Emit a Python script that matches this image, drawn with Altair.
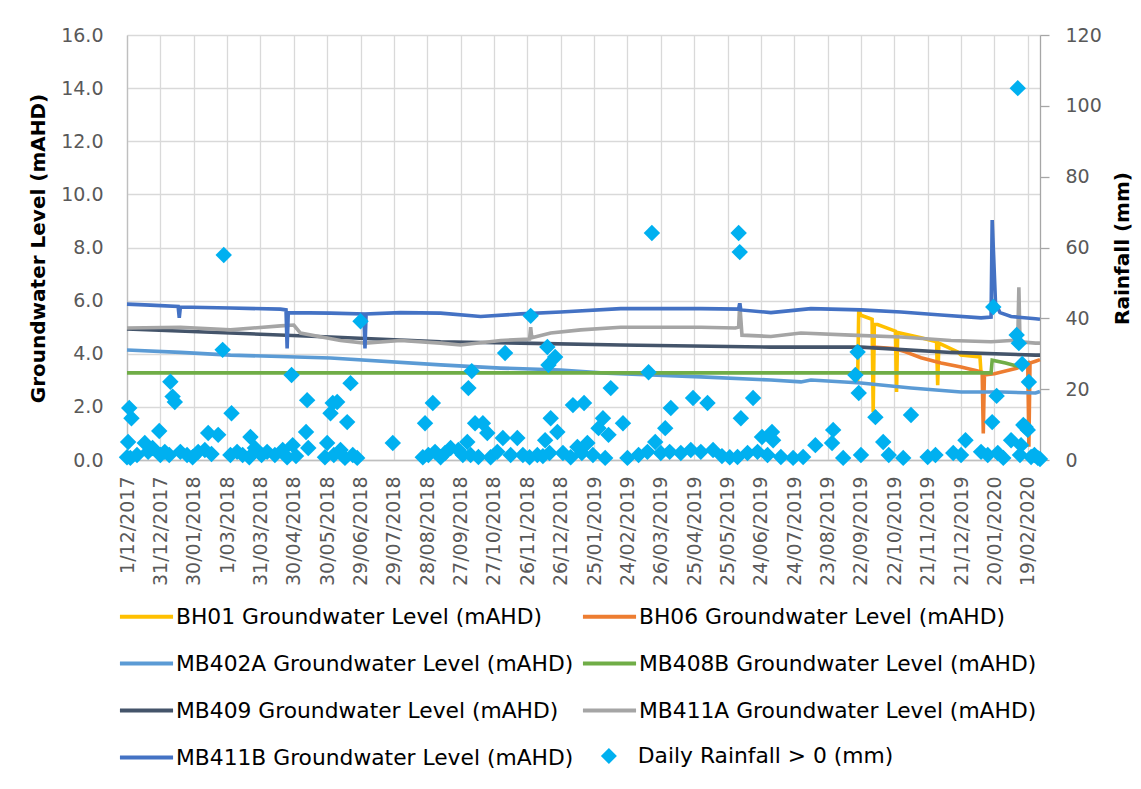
import altair as alt
import pandas as pd

START = "2017-12-01"
LAST_DAY = 821  # days after START shown on the axis (1/03/2020)

# legend is filled column by column: first column, then second column
series_names = [
    "BH01 Groundwater Level (mAHD)",
    "MB402A Groundwater Level (mAHD)",
    "MB409 Groundwater Level (mAHD)",
    "MB411B Groundwater Level (mAHD)",
    "BH06 Groundwater Level (mAHD)",
    "MB408B Groundwater Level (mAHD)",
    "MB411A Groundwater Level (mAHD)",
]
series_colors = ["#FFC000", "#5B9BD5", "#44546A", "#4472C4", "#ED7D31", "#70AD47", "#A5A5A5"]
rain_name = "Daily Rainfall > 0 (mm)"

# groundwater levels (day offset from START, mAHD)
bh01_day = [657, 658, 660, 670, 671, 672, 675, 691, 692, 693, 714, 728, 729, 730, 747, 750, 767, 768]
bh01_val = [2.95, 5.65, 5.45, 5.3, 1.8, 5.1, 5.1, 4.85, 2.56, 4.8, 4.6, 4.45, 2.82, 4.4, 4.07, 3.95, 3.88, 3.25]

bh06_day = [670, 690, 700, 714, 732, 750, 765, 769, 770, 771, 780, 790, 800, 808, 810, 811, 812, 817, 821]
bh06_val = [4.25, 4.2, 4.07, 3.85, 3.65, 3.5, 3.35, 3.3, 1.0, 3.2, 3.25, 3.35, 3.45, 3.6, 3.65, 0.5, 3.65, 3.72, 3.78]

mb402a_day = [0, 48, 93, 183, 282, 336, 390, 426, 516, 579, 606, 615, 660, 705, 750, 786, 817, 821]
mb402a_val = [4.14, 4.05, 3.95, 3.84, 3.58, 3.46, 3.39, 3.28, 3.13, 3.01, 2.94, 3.01, 2.9, 2.71, 2.56, 2.56, 2.52, 2.58]

mb408b_day = [0, 777, 778, 790, 802]
mb408b_val = [3.28, 3.28, 3.76, 3.65, 3.52]

mb409_day = [0, 93, 183, 282, 354, 444, 579, 660, 741, 817, 821]
mb409_val = [4.93, 4.78, 4.63, 4.45, 4.4, 4.33, 4.25, 4.25, 4.05, 3.95, 3.95]

mb411a_day = [0, 48, 93, 138, 150, 156, 192, 214, 246, 282, 300, 336, 362, 363, 364, 381, 408, 444,
              480, 516, 547, 550, 551, 553, 579, 606, 651, 696, 741, 777, 795, 801, 802, 803, 817, 821]
mb411a_val = [4.97, 5.0, 4.9, 5.05, 5.08, 4.78, 4.5, 4.4, 4.5, 4.4, 4.33, 4.5, 4.55, 5.0, 4.6, 4.78, 4.9, 5.0,
              5.0, 5.0, 4.97, 5.0, 5.9, 4.7, 4.65, 4.78, 4.7, 4.63, 4.5, 4.45, 4.5, 4.5, 6.5, 4.45, 4.4, 4.4]

mb411b_day = [0, 21, 46, 47, 48, 93, 138, 143, 144, 145, 183, 213, 214, 215, 246, 282, 318, 354, 390, 444,
              516, 550, 551, 552, 579, 615, 660, 696, 732, 768, 777, 778, 781, 785, 795, 817, 821]
mb411b_val = [5.87, 5.83, 5.78, 5.35, 5.76, 5.72, 5.68, 5.65, 4.2, 5.55, 5.53, 5.5, 4.2, 5.5, 5.55, 5.53, 5.4, 5.5, 5.57, 5.7,
              5.7, 5.68, 5.9, 5.65, 5.55, 5.7, 5.65, 5.57, 5.46, 5.35, 5.38, 9.03, 5.9, 5.55, 5.4, 5.32, 5.3]

series_days = {
    "BH01 Groundwater Level (mAHD)": (bh01_day, bh01_val),
    "BH06 Groundwater Level (mAHD)": (bh06_day, bh06_val),
    "MB402A Groundwater Level (mAHD)": (mb402a_day, mb402a_val),
    "MB408B Groundwater Level (mAHD)": (mb408b_day, mb408b_val),
    "MB409 Groundwater Level (mAHD)": (mb409_day, mb409_val),
    "MB411A Groundwater Level (mAHD)": (mb411a_day, mb411a_val),
    "MB411B Groundwater Level (mAHD)": (mb411b_day, mb411b_val),
}

# daily rainfall > 0 (day offset from START, mm)
rain_day = [0, 1, 2, 3, 4, 9, 16, 19, 23, 29, 30, 34, 38, 39, 41, 43, 48, 54, 59, 64, 70, 73, 76, 82, 86, 87,
            93, 94, 99, 104, 110, 111, 115, 121, 126, 133, 140, 144, 148, 149, 152, 161, 162, 163, 178, 180,
            183, 185, 186, 189, 192, 196, 198, 201, 203, 207, 210,
            239, 266, 268, 271, 275, 277, 282, 286, 291, 298, 302, 306, 307, 309, 310, 313, 316, 320, 324,
            327, 333, 338, 340, 345, 351, 356, 362, 363, 369, 374, 376, 378, 379, 380, 381, 385, 387, 392,
            399, 401, 405, 409, 411,
            414, 419, 424, 428, 430, 433, 435, 446, 450, 460, 468, 469, 472, 475, 480, 484, 488, 489, 498,
            507, 509, 516, 522, 527, 535, 542, 549, 550, 551, 552, 558, 563, 567, 571, 576, 580, 581, 588,
            599, 608, 619,
            634, 635, 644, 655, 657, 658, 660, 673, 680, 685, 698, 705, 720, 727, 743, 750, 754, 768, 774,
            778, 779, 782, 783, 788, 795, 800, 801, 802, 803, 804, 805, 806, 808, 810, 811, 813, 816, 819, 821]
rain_mm = [0.8, 5.1, 14.7, 0.6, 11.8, 1.4, 4.8, 2.3, 3.4, 8.2, 1.4, 2.3, 1.4, 22.1, 17.9, 16.4, 2.3, 1.4, 0.8, 2.3, 2.8, 7.6, 1.7, 7.1, 31.1, 57.9,
           1.4, 13.2, 2.3, 1.4, 0.8, 6.5, 3.4, 1.4, 2.3, 1.4, 2.8, 0.8, 24.0, 4.2, 1.1, 7.9, 16.9, 3.4, 0.8, 4.8,
           13.2, 16.1, 1.4, 16.4, 2.8, 0.6, 10.7, 21.7, 1.4, 0.6, 39.2,
           4.8, 0.8, 10.4, 1.4, 16.1, 2.3, 0.8, 2.0, 3.4, 2.8, 1.4, 5.1, 20.3, 1.4, 25.1, 10.4, 0.85, 10.4, 7.6,
           0.8, 2.3, 6.2, 30.2, 1.4, 6.2, 1.4, 0.8, 40.7, 1.4, 1.1, 5.6, 31.9, 26.8, 2.0, 11.8, 29.1, 7.9, 2.0,
           0.8, 15.5, 3.7, 2.0, 16.1,
           4.8, 1.4, 9.0, 11.8, 0.6, 7.1, 20.3, 10.4, 0.6, 1.4, 2.3, 24.8, 64.1, 5.1, 2.0, 9.0, 2.3, 14.7, 2.0,
           2.8, 17.5, 2.3, 16.1, 2.8, 1.1, 0.8, 0.85, 64.1, 58.7, 11.8, 2.0, 17.5, 2.3, 6.5, 1.4, 7.9, 5.6, 0.85,
           0.6, 0.85, 4.2,
           4.8, 8.5, 0.6, 24.0, 30.5, 18.9, 1.4, 12.1, 5.1, 1.4, 0.6, 12.7, 0.85, 1.4, 2.0, 1.4, 5.6, 2.3, 1.4,
           10.7, 43.2, 18.1, 2.0, 0.6, 5.6, 35.3, 105.0, 33.0, 1.4, 4.2, 27.1, 9.9, 9.3, 8.5, 22.0, 0.85, 1.4, 0.6, 0.3]

# x-axis tick labels every 30 days from 1/12/2017 to 19/02/2020
tick_days = list(range(0, 811, 30))
left_ticks = [0, 2, 4, 6, 8, 10, 12, 14, 16]
right_ticks = [0, 20, 40, 60, 80, 100, 120]

t0 = pd.Timestamp(START)


def to_dates(days):
    return [(t0 + pd.Timedelta(days=int(d))).strftime("%Y-%m-%d") for d in days]


def to_ms(days):
    return [int((t0 + pd.Timedelta(days=int(d))).value // 10**6) for d in days]


frames = []
for name, (d, v) in series_days.items():
    frames.append(pd.DataFrame({"date": to_dates(d), "level": v, "series": name}))
lines_df = pd.concat(frames, ignore_index=True)

rain_df = pd.DataFrame({"date": to_dates(rain_day), "mm": rain_mm, "kind": rain_name})

FONT = "DejaVu Sans"
LABEL = "#595959"
GRID = "#D9D9D9"

x_enc = alt.X(
    "date:T",
    scale=alt.Scale(type="utc", domain=to_ms([0, LAST_DAY])),
    axis=alt.Axis(
        title=None,
        values=to_ms(tick_days),
        labelExpr="utcFormat(datum.value, '%-d/%m/%Y')",
        labelAngle=270,
        labelFontSize=19,
        labelPadding=16,
        ticks=False,
        grid=True,
        gridColor=GRID,
        gridWidth=1.3,
        domainColor="#BFBFBF",
        domainWidth=1.3,
        labelOverlap=False,
    ),
)

lines = alt.Chart(lines_df).mark_line(strokeWidth=3.6, interpolate="linear").encode(
    x=x_enc,
    y=alt.Y(
        "level:Q",
        scale=alt.Scale(domain=[0, 16], nice=False),
        axis=alt.Axis(
            title="Groundwater Level (mAHD)",
            values=left_ticks,
            format=".1f",
            ticks=False,
            labelPadding=24,
            labelFontSize=19,
            grid=True,
            gridColor=GRID,
            gridWidth=1.3,
            domainColor="#BFBFBF",
            domainWidth=1.3,
            titleFontSize=20,
            titleFontWeight="bold",
            titleColor="#000000",
            titleAngle=270,
            titleX=-89,
            titleY=213,
            titleAlign="center",
            titleBaseline="middle",
        ),
    ),
    color=alt.Color(
        "series:N",
        scale=alt.Scale(domain=series_names, range=series_colors),
        legend=alt.Legend(
            title=None,
            orient="none",
            legendX=-6,
            legendY=556,
            columns=2,
            symbolType="M-1.13,0H1.13",
            symbolSize=2209,
            symbolStrokeWidth=4,
            labelFontSize=21.8,
            labelColor="#000000",
            labelOffset=4,
            labelLimit=0,
            columnPadding=0,
            rowPadding=9,
            padding=0,
        ),
    ),
    order=alt.Order("date:T"),
)

points = alt.Chart(rain_df).mark_point(filled=True, size=270, opacity=1, color="#00B0F0").encode(
    x=x_enc,
    y=alt.Y(
        "mm:Q",
        scale=alt.Scale(domain=[0, 120], nice=False),
        axis=alt.Axis(
            orient="right",
            title="Rainfall (mm)",
            values=right_ticks,
            format="d",
            grid=False,
            tickSize=9,
            tickColor="#A6A6A6",
            tickWidth=1.3,
            labelPadding=16,
            labelFontSize=19,
            domainColor="#A6A6A6",
            domainWidth=1.3,
            titleFontSize=20,
            titleFontWeight="bold",
            titleColor="#000000",
            titleAngle=270,
            titleX=82,
            titleY=213,
            titleAlign="center",
            titleBaseline="middle",
        ),
    ),
    shape=alt.Shape(
        "kind:N",
        scale=alt.Scale(domain=[rain_name], range=["diamond"]),
        legend=alt.Legend(
            title=None,
            orient="none",
            legendX=471,
            legendY=710,
            symbolType="M0,-1L0.6,0L0,1L-0.6,0Z",
            symbolSize=256,
            symbolFillColor="#00B0F0",
            symbolStrokeColor="#00B0F0",
            symbolStrokeWidth=0,
            symbolOpacity=1,
            labelFontSize=21.8,
            labelColor="#000000",
            labelOffset=18,
            labelLimit=0,
            padding=0,
        ),
    ),
)

chart = (
    alt.layer(lines, points)
    .resolve_scale(y="independent")
    .properties(
        width=913,
        height=425,
        padding={"left": 119, "top": 27, "right": 93, "bottom": 321},
        autosize=alt.AutoSizeParams(type="none"),
    )
    .configure(font=FONT)
    .configure_axis(labelColor=LABEL, labelFont=FONT, titleFont=FONT)
    .configure_legend(labelFont=FONT)
    .configure_view(stroke=None)
)

chart.save("out.html", embed_options={"renderer": "svg", "actions": False})
